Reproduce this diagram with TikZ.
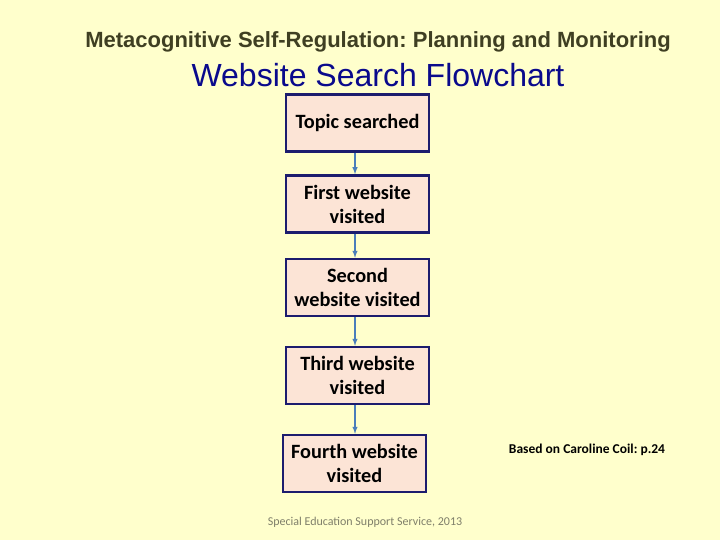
\documentclass[tikz,border=0pt]{standalone}
\usepackage{fontspec}
\setmainfont{Carlito}
\newfontfamily\arialfont{Liberation Sans}
\usepackage{xcolor}
\usepackage{tikz}
\usetikzlibrary{arrows}
\frenchspacing
\definecolor{slidecolor}{HTML}{FFFFCC}
\definecolor{boxfill}{HTML}{FCE4D6}
\definecolor{boxline}{HTML}{1C1C6E}
\definecolor{linecolor}{HTML}{4A7EBB}
\definecolor{titlecolor}{HTML}{3F3F22}
\definecolor{headcolor}{HTML}{0A0A8C}
\definecolor{notecolor}{HTML}{7F7F6A}
\tikzset{
  stepbox/.style={draw=boxline, line width=2.5pt, fill=boxfill, minimum width=143pt,
    minimum height=57pt, align=center, inner sep=0pt,
    font=\fontsize{20.3}{24}\selectfont\bfseries},
  flowarrow/.style={linecolor, line width=1.4pt, -latex}
}
\begin{document}
\begin{tikzpicture}[x=1pt,y=-1pt]
\fill[slidecolor] (0,0) rectangle (720,540);
%% titles
\node (title) at (378,42) {\arialfont\bfseries\color{titlecolor}\fontsize{22}{26}\selectfont Metacognitive Self-Regulation: Planning and Monitoring};
\node (heading) at (378,75) {\arialfont\color{headcolor}\fontsize{32}{36}\selectfont Website Search Flowchart};
%% flowchart boxes
\node[stepbox] (topic) at (357.5,123) {Topic searched};
\node[stepbox] (first) at (357.5,204) {First website\\visited};
\node[stepbox] (second) at (357.5,287.5) {Second\\website visited};
\node[stepbox] (third) at (357.5,375.5) {Third website\\visited};
\node[stepbox] (fourth) at (354.5,463.5) {Fourth website\\visited};
\foreach \a/\b in {topic/first, first/second, second/third, third/fourth}
    \draw[flowarrow] (\a.south -| 355,0) -- (\b.north -| 355,0);
%% notes
\node[font=\fontsize{13.5}{16}\selectfont\bfseries] (source) at (587,450) {Based on Caroline Coil: p.24};
\node[font=\fontsize{12}{14}\selectfont, text=notecolor] (footer) at (365,522) {Special Education Support Service, 2013};
\end{tikzpicture}
\end{document}
